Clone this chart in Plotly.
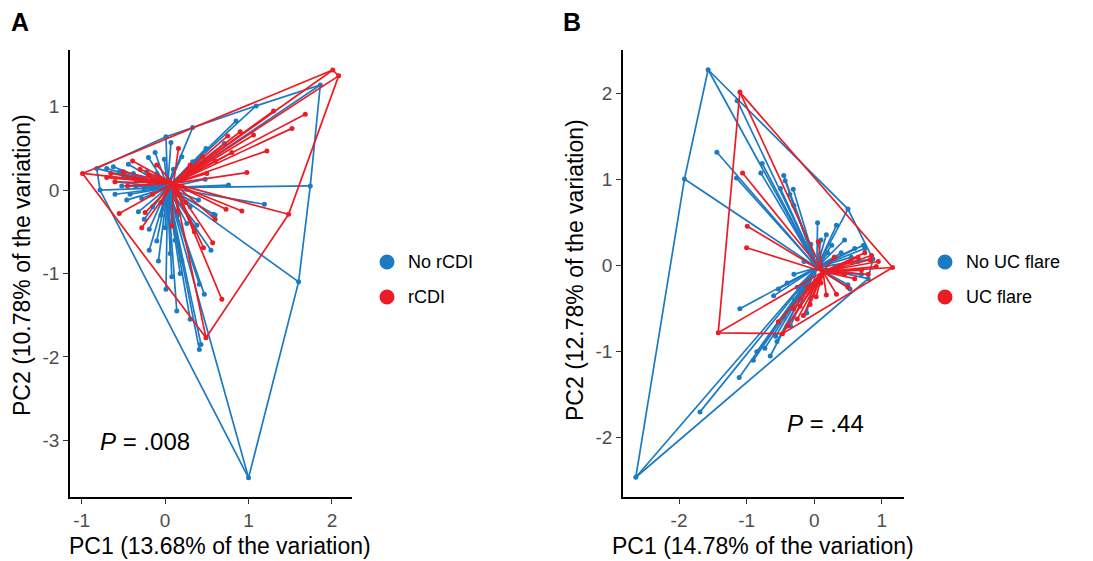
import plotly.graph_objects as go

W, H = 1093, 561
BLUE = "#1B7AC2"
RED = "#EC1C24"

# ---------------- Panel A data (PC1, PC2) ----------------
a_groups = ["No rCDI", "rCDI"]
a_no_pc1 = [-0.82, -0.78, 1.00, 1.60, 1.74, 1.86, 1.09, 0.33, 0.01, 1.19, 0.60, 0.55, -0.19, -0.10,
            -0.19, 0.08, 0.01, 0.47, 0.41, 0.43, 0.41, 0.18, 0.06, 0.38, 0.26, 0.76, 0.85, 0.71,
            0.49, 0.33, 0.07, -0.01, -0.20, -0.44, -0.62, -0.70, -0.60, -0.46, -0.32, 0.48, 0.40,
            0.58, -0.55, -0.50, -0.45, -0.38, -0.30, -0.35, -0.25, -0.15, -0.10, -0.52, -0.42,
            -0.28, -0.15, -0.05, 0.00, -0.08, 0.12, 0.20, -0.25, 0.15, 0.30, 0.10, 0.20, 0.25,
            -0.60, -0.22, -0.12, 0.14, 0.30]
a_no_pc2 = [0.26, 0.00, -3.45, -1.10, 0.05, 1.26, 1.01, 0.75, 0.64, -0.17, -0.30, -0.72, -0.72, -0.61,
            -0.47, -1.04, -1.19, -1.25, -1.13, -1.85, -1.91, -1.00, -0.76, -0.42, -0.40, 0.06, 0.83, 0.56,
            0.50, 0.34, 0.57, 0.37, 0.39, 0.31, 0.28, 0.26, 0.10, -0.12, -0.26, 0.13, -0.12,
            -0.29, 0.22, 0.18, 0.15, 0.20, 0.12, 0.05, 0.02, 0.08, 0.20, 0.05, -0.05,
            -0.10, -0.20, -0.30, -0.45, -0.85, -0.60, -0.85, -0.35, -0.30, -0.20, 0.25, 0.40, 0.15,
            -0.05, 0.22, 0.45, -1.45, -1.55]
a_yes_pc1 = [-0.99, 2.01, 2.08, 1.48, 0.49, -0.55, 1.68, 1.52, 1.22, 0.98, 0.92, 0.73, 1.06, 0.75,
             0.16, -0.39, 0.60, 0.57, 0.46, 0.68, 0.08, -0.24, -0.70, -0.60, -0.50, -0.45, -0.35,
             -0.30, -0.20, -0.10, -0.15, -0.05, 0.30, 0.45, 0.60, 0.80, 0.25, 0.35, 0.15, 0.90,
             1.30, 0.50, 0.20, -0.65, -0.28]
a_yes_pc2 = [0.20, 1.44, 1.37, -0.29, -1.77, -0.28, 0.91, 0.74, 0.47, 0.21, -0.25, -0.23, 0.66, 0.65,
             0.50, 0.35, -0.35, -0.63, -0.69, -1.31, -0.43, -0.27, 0.15, 0.10, 0.22, 0.05, 0.12,
             0.25, 0.18, 0.30, -0.05, -0.15, 0.30, 0.40, 0.35, 0.45, -0.15, -0.50, -0.25, 0.70,
             0.95, 0.20, 0.05, 0.20, -0.45]
a_centroids = {"No rCDI": (0.03, 0.03), "rCDI": (0.10, 0.08)}

# ---------------- Panel B data (PC1, PC2) ----------------
b_groups = ["No UC flare", "UC flare"]
b_no_pc1 = [-1.57, -1.92, -2.64, -1.69, -1.11, -1.14, -1.44, -1.15, -0.77, -0.79, -0.45, -0.43, -0.31,
            -0.36, 0.50, 0.33, 0.18, -1.10, -0.53, -0.57, -0.55, -0.73, -0.85, -0.29, -0.11, 0.73,
            0.87, 0.50, 0.53, 0.26, 0.80, 0.30, 0.40, 0.55, 0.65, 0.60, 0.45, 0.20, 0.10, -0.05,
            -0.15, -0.30, -0.40, -0.25, -0.60, -0.45, -0.35, -0.20, 0.70, 0.35, -0.90, -0.65,
            -0.50, -0.30, 0.05, 0.75]
b_no_pc2 = [2.28, 1.01, -2.46, -1.70, -1.30, 1.92, 1.32, 1.02, 1.19, 1.08, 1.05, 0.99, 0.89,
            0.83, 0.66, 0.47, 0.36, -0.50, -0.27, -0.82, -0.88, -0.96, -1.00, -0.40, -0.55, 0.24,
            0.08, -0.22, -0.27, 0.24, -0.15, 0.10, 0.15, 0.10, 0.05, 0.20, 0.30, 0.15, 0.30, 0.25,
            0.05, -0.10, -0.20, -0.25, -0.35, -0.60, -0.70, -0.30, -0.10, -0.05, -1.10, -1.05,
            0.90, 0.70, 0.50, 0.20]
b_yes_pc1 = [-1.10, -1.06, -0.99, -1.00, -1.42, 1.16, -0.47, -0.53, -0.16, 0.18, 0.33, 0.06, 0.92,
             0.83, 0.75, 0.45, 0.03, -0.06, -0.21, 0.55, 0.65, 0.70, 0.85, 0.40, 0.30, 0.60,
             -0.30, -0.40, -0.10, 0.10, -0.25, 0.95, 0.80, 0.50]
b_yes_pc2 = [2.02, 1.08, 0.46, 0.21, -0.78, -0.02, -0.79, -0.65, -0.58, -0.34, -0.33, 0.28, -0.01,
             0.07, 0.15, -0.10, -0.36, -0.45, -0.47, 0.05, 0.10, -0.05, 0.12, 0.00, 0.10, -0.15,
             -0.50, -0.70, -0.25, -0.20, -0.62, 0.05, -0.10, -0.25]
b_centroids = {"No UC flare": (0.04, -0.02), "UC flare": (0.13, -0.07)}

# axis ticks / labels
a_xticks = [-1, 0, 1, 2]
a_xlabels = ["-1", "0", "1", "2"]
a_yticks = [-3, -2, -1, 0, 1]
a_ylabels = ["-3", "-2", "-1", "0", "1"]
b_xticks = [-2, -1, 0, 1]
b_xlabels = ["-2", "-1", "0", "1"]
b_yticks = [-2, -1, 0, 1, 2]
b_ylabels = ["-2", "-1", "0", "1", "2"]
a_xtitle = "PC1 (13.68% of the variation)"
a_ytitle = "PC2 (10.78% of the variation)"
b_xtitle = "PC1 (14.78% of the variation)"
b_ytitle = "PC2 (12.78% of the variation)"
a_pvalue = "<i>P</i> = .008"
b_pvalue = "<i>P</i> = .44"


def hull(xs, ys):
    pts = sorted(set(zip(xs, ys)))
    if len(pts) < 3:
        return pts

    def cross(o, a, b):
        return (a[0] - o[0]) * (b[1] - o[1]) - (a[1] - o[1]) * (b[0] - o[0])
    lower, upper = [], []
    for p in pts:
        while len(lower) >= 2 and cross(lower[-2], lower[-1], p) <= 0:
            lower.pop()
        lower.append(p)
    for p in reversed(pts):
        while len(upper) >= 2 and cross(upper[-2], upper[-1], p) <= 0:
            upper.pop()
        upper.append(p)
    h = lower[:-1] + upper[:-1]
    return h + [h[0]]


fig = go.Figure()


def add_group(xs, ys, cen, color, xa, ya):
    sx, sy = [], []
    for x, y in zip(xs, ys):
        sx += [cen[0], x, None]
        sy += [cen[1], y, None]
    fig.add_trace(go.Scatter(x=sx, y=sy, mode="lines", line=dict(color=color, width=1.7),
                             xaxis=xa, yaxis=ya, showlegend=False, hoverinfo="skip"))
    h = hull(xs, ys)
    fig.add_trace(go.Scatter(x=[p[0] for p in h], y=[p[1] for p in h], mode="lines",
                             line=dict(color=color, width=1.7), xaxis=xa, yaxis=ya,
                             showlegend=False, hoverinfo="skip"))
    fig.add_trace(go.Scatter(x=xs, y=ys, mode="markers", marker=dict(color=color, size=5),
                             xaxis=xa, yaxis=ya, showlegend=False))


add_group(a_no_pc1, a_no_pc2, a_centroids["No rCDI"], BLUE, "x", "y")
add_group(a_yes_pc1, a_yes_pc2, a_centroids["rCDI"], RED, "x", "y")
add_group(b_no_pc1, b_no_pc2, b_centroids["No UC flare"], BLUE, "x2", "y2")
add_group(b_yes_pc1, b_yes_pc2, b_centroids["UC flare"], RED, "x2", "y2")


def px(x):
    return x / W


def py(y):
    return 1 - y / H


FONT = "Liberation Sans, Arial, sans-serif"
axis_common = dict(showgrid=False, zeroline=False, showline=True, linecolor="black", linewidth=1.6,
                   ticks="outside", ticklen=5, tickwidth=1.2, tickcolor="#333333",
                   tickfont=dict(family=FONT, size=19, color="#4D4D4D"), mirror=False)

ydom = [py(497), py(50)]
fig.update_layout(
    width=W, height=H, margin=dict(l=0, r=0, t=0, b=0),
    plot_bgcolor="white", paper_bgcolor="white", showlegend=False,
    xaxis=dict(domain=[px(70), px(352)], range=[-1.14, 2.24], tickvals=a_xticks,
               ticktext=a_xlabels, anchor="y", **axis_common),
    yaxis=dict(domain=ydom, range=[-3.68, 1.68], tickvals=a_yticks, ticktext=a_ylabels,
               anchor="x", **axis_common),
    xaxis2=dict(domain=[px(623), px(904)], range=[-2.83, 1.33], tickvals=b_xticks,
                ticktext=b_xlabels, anchor="y2", **axis_common),
    yaxis2=dict(domain=ydom, range=[-2.69, 2.51], tickvals=b_yticks, ticktext=b_ylabels,
                anchor="x2", **axis_common),
)

ann = []
title_font = dict(family=FONT, size=23, color="black")
ann.append(dict(text=a_xtitle, x=px(220), y=py(546), xref="paper", yref="paper",
                showarrow=False, font=title_font, xanchor="center", yanchor="middle"))
ann.append(dict(text=b_xtitle, x=px(763), y=py(546), xref="paper", yref="paper",
                showarrow=False, font=title_font, xanchor="center", yanchor="middle"))
ann.append(dict(text=a_ytitle, x=px(22), y=py(265), xref="paper", yref="paper", textangle=-90,
                showarrow=False, font=title_font, xanchor="center", yanchor="middle"))
ann.append(dict(text=b_ytitle, x=px(575), y=py(270), xref="paper", yref="paper", textangle=-90,
                showarrow=False, font=title_font, xanchor="center", yanchor="middle"))
ann.append(dict(text="<b>A</b>", x=px(9), y=py(22), xref="paper", yref="paper",
                showarrow=False, font=dict(family=FONT, size=25, color="black"),
                xanchor="left", yanchor="middle"))
ann.append(dict(text="<b>B</b>", x=px(561), y=py(22), xref="paper", yref="paper",
                showarrow=False, font=dict(family=FONT, size=25, color="black"),
                xanchor="left", yanchor="middle"))
pfont = dict(family=FONT, size=24, color="black")
ann.append(dict(text=a_pvalue, x=px(98), y=py(441), xref="paper", yref="paper",
                showarrow=False, font=pfont, xanchor="left", yanchor="middle"))
ann.append(dict(text=b_pvalue, x=px(785), y=py(423), xref="paper", yref="paper",
                showarrow=False, font=pfont, xanchor="left", yanchor="middle"))

shapes = []
legend_specs = [(387, a_groups), (945, b_groups)]
for cx, labels in legend_specs:
    for i, (lab, col) in enumerate(zip(labels, [BLUE, RED])):
        cy = 262 + 35 * i
        shapes.append(dict(type="circle", xref="paper", yref="paper", xsizemode="pixel",
                           ysizemode="pixel", xanchor=px(cx), yanchor=py(cy),
                           x0=-7.5, x1=7.5, y0=-7.5, y1=7.5, fillcolor=col, line=dict(width=0)))
        ann.append(dict(text=lab, x=px(cx + 19), y=py(cy), xref="paper", yref="paper",
                        showarrow=False, font=dict(family=FONT, size=18, color="black"),
                        xanchor="left", yanchor="middle"))

fig.update_layout(annotations=ann, shapes=shapes)
fig.write_html("out.html")
